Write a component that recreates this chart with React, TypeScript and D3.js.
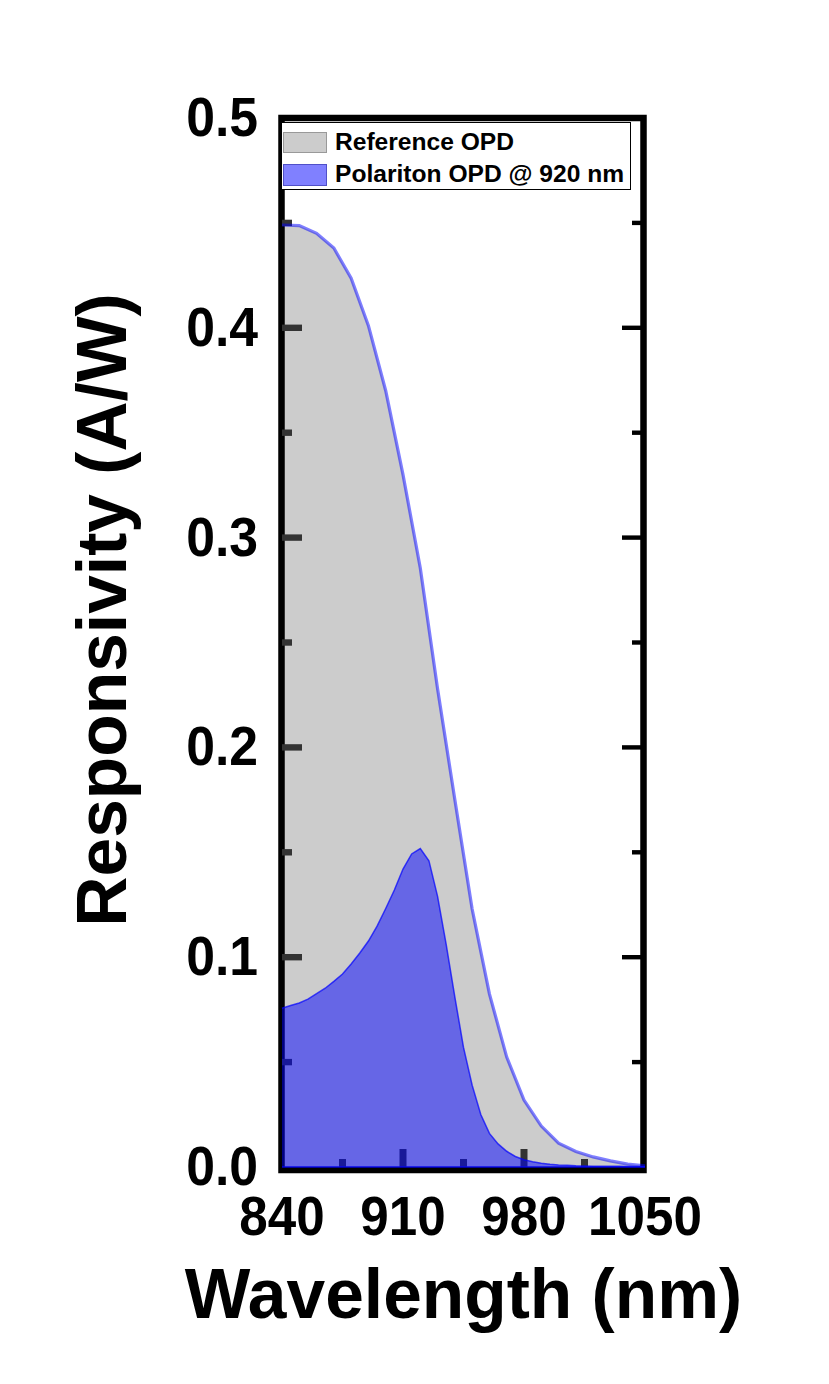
import React from "react";
import * as d3 from "d3";

// ---- data ----
const refWavelengths = [840, 850, 860, 870, 880, 890, 900, 910, 920, 930, 940, 950, 960, 970, 980, 990, 1000, 1010, 1020, 1030, 1040, 1050];
const refValues = [0.449, 0.4487, 0.445, 0.438, 0.4236, 0.401, 0.37, 0.33, 0.2855, 0.228, 0.175, 0.123, 0.0825, 0.0524, 0.0319, 0.0195, 0.0114, 0.0074, 0.0048, 0.0029, 0.0014, 0.0005];

const polWavelengths = [840, 845, 850, 855, 860, 865, 870, 875, 880, 885, 890, 895, 900, 905, 910, 915, 920, 925, 930, 935, 940, 945, 950, 955, 960, 965, 970, 975, 980, 985, 990, 995, 1000, 1005, 1010, 1015, 1020, 1025, 1030, 1035, 1040, 1045, 1050];
const polValues = [0.0757, 0.077, 0.0782, 0.08, 0.0826, 0.0852, 0.0885, 0.092, 0.0968, 0.102, 0.1077, 0.1148, 0.1232, 0.132, 0.142, 0.1492, 0.1518, 0.146, 0.129, 0.106, 0.081, 0.057, 0.039, 0.025, 0.016, 0.011, 0.0075, 0.005, 0.0035, 0.0025, 0.0018, 0.0013, 0.001, 0.0008, 0.0006, 0.0005, 0.0004, 0.0004, 0.0003, 0.0003, 0.0002, 0.0002, 0.0002];

const xMajorTicks = [840, 910, 980, 1050];
const xMinorTicks = [875, 945, 1015];
const yMajorTicks = [0, 0.1, 0.2, 0.3, 0.4, 0.5];
const yMinorTicks = [0.05, 0.15, 0.25, 0.35, 0.45];
const legendLabels = ["Reference OPD", "Polariton OPD @ 920 nm"];
const xTitle = "Wavelength (nm)";
const yTitle = "Responsivity (A/W)";

const FONT = "'Liberation Sans', Arial, Helvetica, sans-serif";

export default function App() {
  const W = 829, H = 1384;
  const x = d3.scaleLinear().domain([840, 1050]).range([282, 645]);
  const y = d3.scaleLinear().domain([0, 0.5]).range([1167, 118]);

  const refData = refWavelengths.map((w, i) => ({ w, v: refValues[i] }));
  const polData = polWavelengths.map((w, i) => ({ w, v: polValues[i] }));

  const area = d3.area<{ w: number; v: number }>()
    .x(d => x(d.w)).y0(y(0)).y1(d => y(d.v)).curve(d3.curveLinear);
  const line = d3.line<{ w: number; v: number }>()
    .x(d => x(d.w)).y(d => y(d.v)).curve(d3.curveLinear);

  const fmt = d3.format(".1f");
  const x0 = x(840), x1 = x(1050), yb = y(0), yt = y(0.5);
  const innerX = xMajorTicks.slice(1, -1);
  const innerY = yMajorTicks.slice(1, -1);

  return (
    <div style={{ position: "absolute", left: 0, top: 0 }}>
      <svg width={W} height={H} style={{ display: "block", background: "#fff" }}>
        {/* reference area */}
        <path d={area(refData) || ""} fill="#cccccc" stroke="none" />

        {/* frame */}
        <rect x={x0 - 0.5} y={yt} width={x1 - x0 - 1} height={yb - yt + 3} fill="none" stroke="#000" strokeWidth={6.5} />

        {/* left / bottom ticks (inward) */}
        {innerY.map(t => (
          <rect key={"ylM" + t} x={x0} y={y(t) - 3.2} width={20} height={6.4} fill="#333" />
        ))}
        {yMinorTicks.map(t => (
          <rect key={"ylm" + t} x={x0} y={y(t) - 3.2} width={10} height={6.4} fill="#333" />
        ))}
        {innerX.map(t => (
          <rect key={"xbM" + t} x={x(t) - 3.5} y={yb - 18} width={7} height={18} fill="#333" />
        ))}
        {xMinorTicks.map(t => (
          <rect key={"xbm" + t} x={x(t) - 3.5} y={yb - 8} width={7} height={8} fill="#333" />
        ))}
        {/* right ticks */}
        {innerY.map(t => (
          <rect key={"yrM" + t} x={x1 - 23} y={y(t) - 2.2} width={20} height={4.4} fill="#000" />
        ))}
        {yMinorTicks.map(t => (
          <rect key={"yrm" + t} x={x1 - 13} y={y(t) - 2.2} width={10} height={4.4} fill="#000" />
        ))}

        {/* polariton area */}
        <path d={area(polData) || ""} fill="rgb(0,0,255)" fillOpacity={0.5} stroke="none" />
        {/* reference top edge */}
        <path d={line(refData) || ""} fill="none" stroke="rgb(0,0,255)" strokeOpacity={0.5} strokeWidth={3.2} />
        {/* polariton edge */}
        <path d={line(polData) || ""} fill="none" stroke="rgb(0,0,255)" strokeOpacity={0.7} strokeWidth={1.5} />
        <line x1={x0} x2={x1} y1={yb} y2={yb} stroke="rgb(0,0,255)" strokeOpacity={0.6} strokeWidth={2} />

        {/* legend */}
        <rect x={281.5} y={122.5} width={349} height={67} fill="#fff" stroke="#000" strokeWidth={1} />
        <rect x={283.5} y={132.5} width={43} height={20} fill="#cccccc" stroke="#999" strokeWidth={1} />
        <rect x={283.5} y={164.5} width={43} height={21} fill="#8080ff" stroke="#5050c8" strokeWidth={1} />
        {legendLabels.map((lab, i) => (
          <text key={lab} transform={`translate(335,${149.5 + i * 32.2}) scale(1.07,1)`}
            fontFamily={FONT} fontWeight="bold" fontSize={23} fill="#000">{lab}</text>
        ))}

        {/* y tick labels */}
        {yMajorTicks.map(t => (
          <text key={"yl" + t} transform={`translate(258,${y(t) + 18}) scale(0.94,1)`} textAnchor="end"
            fontFamily={FONT} fontWeight="bold" fontSize={55} fill="#000">{fmt(t)}</text>
        ))}
        {/* x tick labels */}
        {xMajorTicks.map(t => (
          <text key={"xl" + t} transform={`translate(${x(t)},1235) scale(0.93,1)`} textAnchor="middle"
            fontFamily={FONT} fontWeight="bold" fontSize={55} fill="#000">{t}</text>
        ))}

        {/* axis titles */}
        <text x={(x0 + x1) / 2} y={1318} textAnchor="middle" fontFamily={FONT} fontWeight="bold" fontSize={69.5} fill="#000">{xTitle}</text>
        <text transform={`translate(126,610) rotate(-90)`} textAnchor="middle" fontFamily={FONT} fontWeight="bold" fontSize={69.5} fill="#000">{yTitle}</text>
      </svg>
    </div>
  );
}
